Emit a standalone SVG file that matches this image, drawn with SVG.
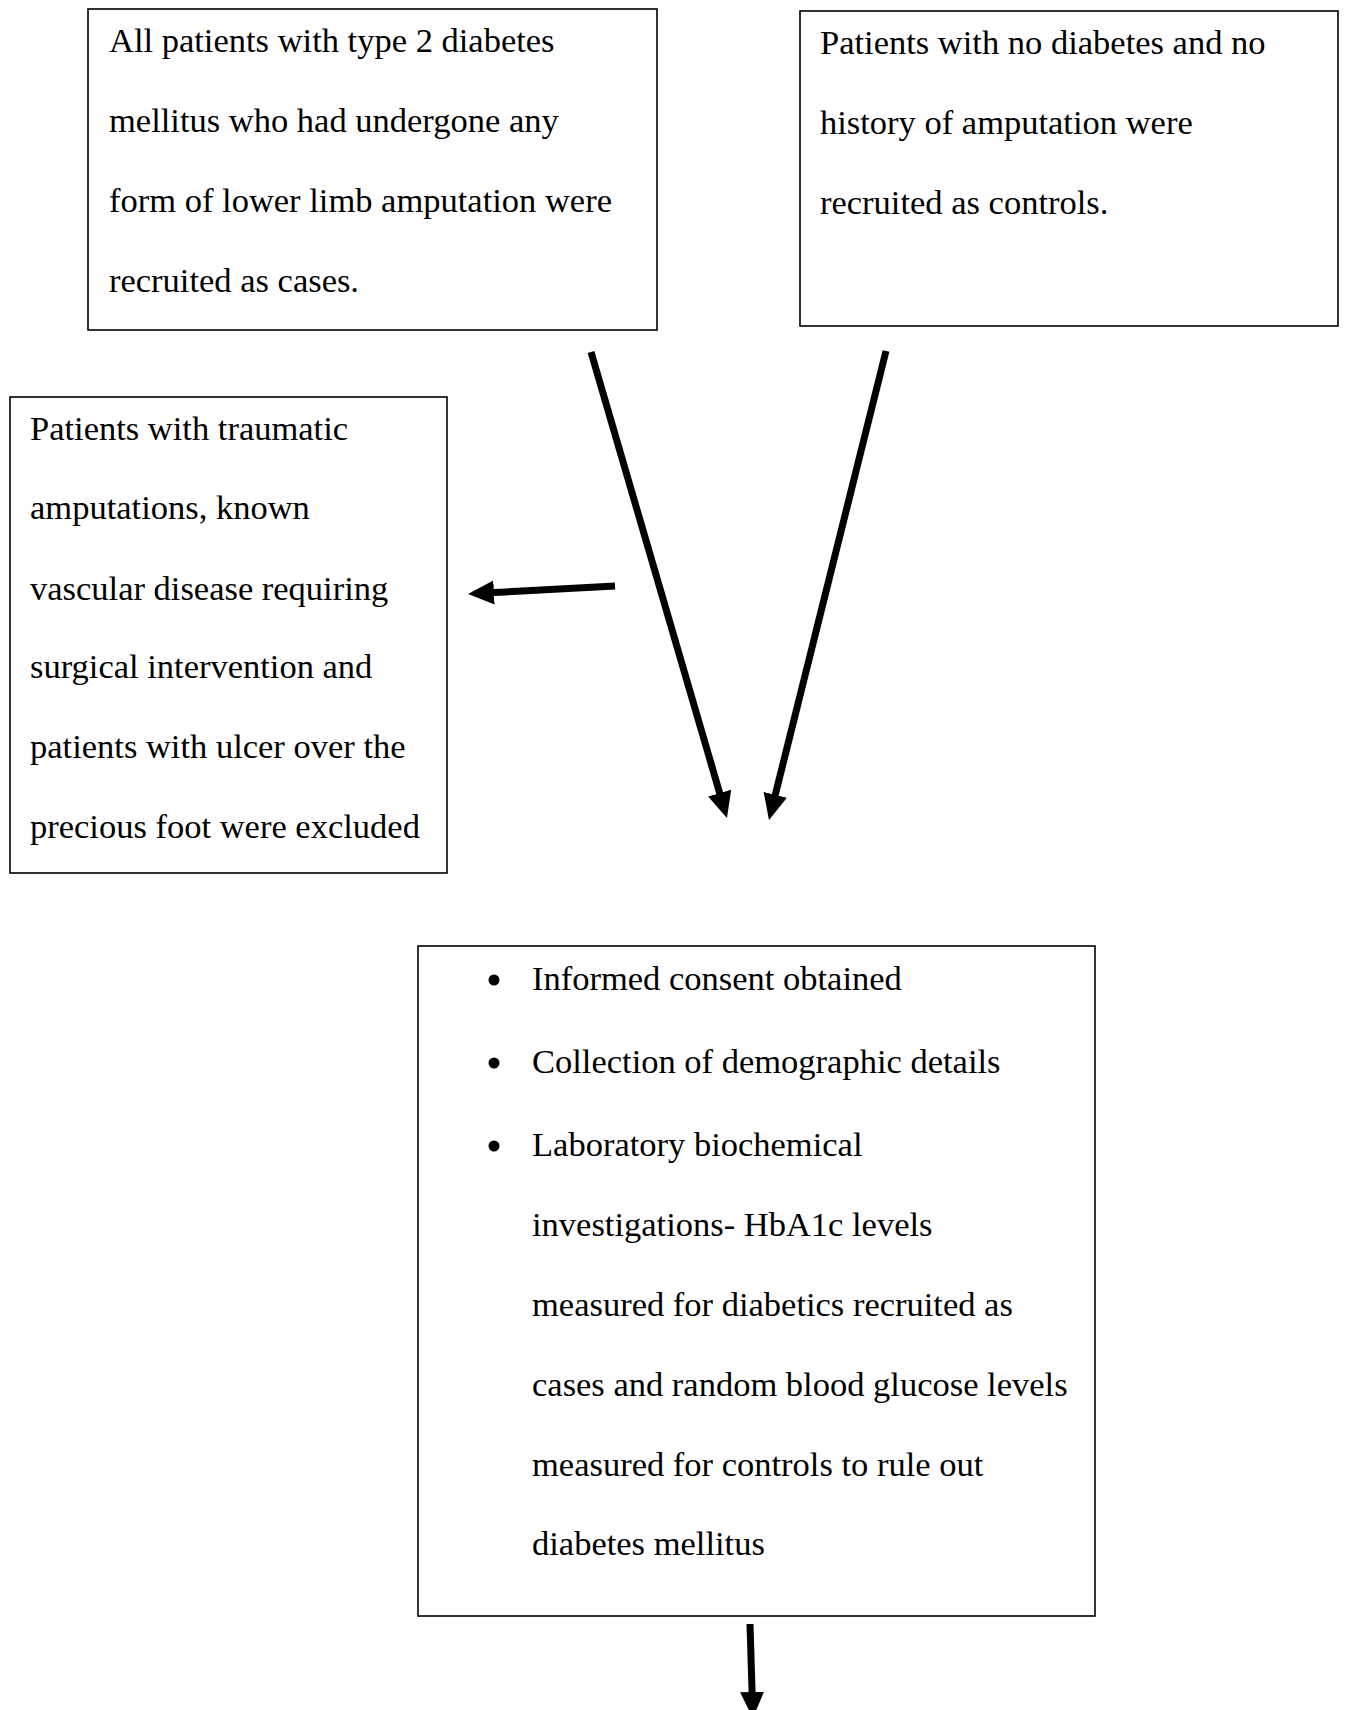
<svg xmlns="http://www.w3.org/2000/svg" width="1346" height="1710" viewBox="0 0 1346 1710">
<style>
.box{fill:#fff;stroke:#000;stroke-width:1.6}
.t{font-family:"Liberation Serif","Times New Roman",serif;font-size:34.5px;fill:#000}
.arr{stroke:#000;stroke-width:7;fill:none;marker-end:url(#ah)}
</style>
<defs>
<marker id="ah" markerUnits="userSpaceOnUse" markerWidth="30" markerHeight="26" refX="4" refY="12" orient="auto">
<path d="M0,0 L26,12 L0,24 z" fill="#000"/>
</marker>
</defs>
<rect width="1346" height="1710" fill="#fff"/>
<g id="cases">
<rect class="box" x="88" y="9" width="569" height="321"/>
<text class="t" x="109" y="52">All patients with type 2 diabetes</text>
<text class="t" x="109" y="132">mellitus who had undergone any</text>
<text class="t" x="109" y="212">form of lower limb amputation were</text>
<text class="t" x="109" y="292">recruited as cases.</text>
</g>
<g id="controls">
<rect class="box" x="800" y="11" width="538" height="315"/>
<text class="t" x="820" y="54">Patients with no diabetes and no</text>
<text class="t" x="820" y="134">history of amputation were</text>
<text class="t" x="820" y="214">recruited as controls.</text>
</g>
<g id="excluded">
<rect class="box" x="10" y="397" width="437" height="476"/>
<text class="t" x="30" y="440">Patients with traumatic</text>
<text class="t" x="30" y="519">amputations, known</text>
<text class="t" x="30" y="600">vascular disease requiring</text>
<text class="t" x="30" y="678">surgical intervention and</text>
<text class="t" x="30" y="758">patients with ulcer over the</text>
<text class="t" x="30" y="838">precious foot were excluded</text>
</g>
<g id="procedures">
<rect class="box" x="418" y="946" width="677" height="670"/>
<circle cx="494" cy="980" r="5.5"/>
<circle cx="494" cy="1063" r="5.5"/>
<circle cx="494" cy="1146" r="5.5"/>
<text class="t" x="532" y="990">Informed consent obtained</text>
<text class="t" x="532" y="1073">Collection of demographic details</text>
<text class="t" x="532" y="1156">Laboratory biochemical</text>
<text class="t" x="532" y="1236">investigations- HbA1c levels</text>
<text class="t" x="532" y="1316">measured for diabetics recruited as</text>
<text class="t" x="532" y="1396">cases and random blood glucose levels</text>
<text class="t" x="532" y="1476">measured for controls to rule out</text>
<text class="t" x="532" y="1555">diabetes mellitus</text>
</g>
<g id="connectors">
<line class="arr" x1="591" y1="352" x2="720.8" y2="796.9"/>
<line class="arr" x1="886" y1="351" x2="774.3" y2="798.7"/>
<line class="arr" x1="615" y1="586" x2="490" y2="592.8"/>
<line class="arr" x1="750" y1="1624" x2="752.2" y2="1696"/>
</g>
</svg>
